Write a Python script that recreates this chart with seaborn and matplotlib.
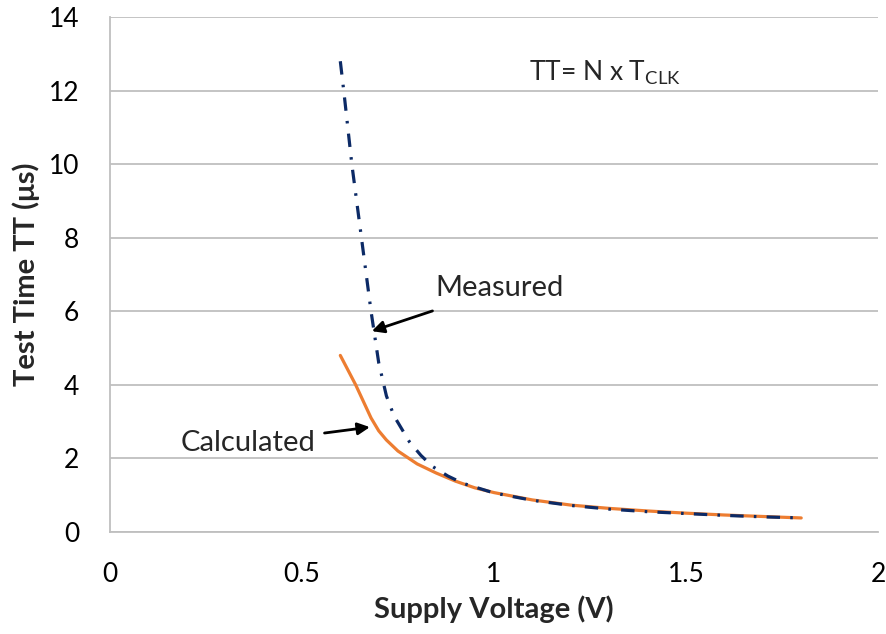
import matplotlib
matplotlib.use("Agg")
import matplotlib.pyplot as plt
import seaborn as sns
import pandas as pd

# Data
meas_v = [0.6, 0.61, 0.63, 0.655, 0.68, 0.70, 0.72, 0.74, 0.76, 0.78, 0.81, 0.84, 0.88, 0.92,
          1.0, 1.1, 1.2, 1.3, 1.4, 1.5, 1.6, 1.7, 1.8]
meas_tt = [12.8, 11.9, 10.0, 8.0, 6.0, 4.6, 3.7, 3.15, 2.8, 2.45, 2.08, 1.78, 1.52, 1.32,
           1.06, 0.86, 0.72, 0.62, 0.55, 0.5, 0.45, 0.41, 0.38]
calc_v = [0.6, 0.62, 0.64, 0.66, 0.68, 0.70, 0.72, 0.75, 0.8, 0.85, 0.9, 0.95, 1.0,
          1.1, 1.2, 1.3, 1.4, 1.5, 1.6, 1.7, 1.8]
calc_tt = [4.8, 4.4, 4.0, 3.55, 3.1, 2.75, 2.5, 2.2, 1.85, 1.6, 1.38, 1.2, 1.07,
           0.87, 0.73, 0.64, 0.57, 0.51, 0.46, 0.42, 0.38]
x_ticks = [0, 0.5, 1, 1.5, 2]
x_tick_labels = ["0", "0.5", "1", "1.5", "2"]
y_ticks = [0, 2, 4, 6, 8, 10, 12, 14]

sns.set_style("white")
plt.rcParams['font.family'] = ['Lato', 'DejaVu Sans']

df_meas = pd.DataFrame({"V": meas_v, "TT": meas_tt})
df_calc = pd.DataFrame({"V": calc_v, "TT": calc_tt})

fig = plt.figure(figsize=(8.86, 6.34), dpi=100)
ax = fig.add_axes([0.124, 0.161, 0.867, 0.812])

sns.lineplot(data=df_calc, x="V", y="TT", ax=ax, color="#ED7D31", lw=2.3, sort=False)
sns.lineplot(data=df_meas, x="V", y="TT", ax=ax, color="#0C2A66", lw=2.3, sort=False,
             linestyle=(0, (4.2, 3.2, 0.8, 3.2)))

ax.set_xlim(0, 2)
ax.set_ylim(0, 14)
ax.set_xticks(x_ticks)
ax.set_xticklabels(x_tick_labels)
ax.set_yticks(y_ticks)
ax.tick_params(axis='both', labelsize=19, length=0, pad=22, colors='black')
ax.yaxis.grid(True, color="#BFBFBF", lw=1.3)
ax.set_axisbelow(True)
for s in ["top", "right"]:
    ax.spines[s].set_visible(False)
for s in ["left", "bottom"]:
    ax.spines[s].set_color("#BFBFBF")
    ax.spines[s].set_linewidth(1.3)

ax.set_xlabel("Supply Voltage (V)", fontsize=21, fontweight="bold", labelpad=6)
ax.set_ylabel("Test Time TT (μs)", fontsize=21, fontweight="bold", labelpad=6)

ax.annotate("Measured", xy=(0.682, 5.46), xytext=(0.848, 6.62), fontsize=21,
            va="center", ha="left",
            arrowprops=dict(arrowstyle="-|>", color="black", lw=2, mutation_scale=18,
                            shrinkA=14, shrinkB=0))
ax.annotate("Calculated", xy=(0.677, 2.85), xytext=(0.536, 2.42), fontsize=21,
            va="center", ha="right",
            arrowprops=dict(arrowstyle="-|>", color="black", lw=2, mutation_scale=18,
                            shrinkA=4, shrinkB=0))
ax.text(1.09, 12.5, "TT= N x T$_{\\mathregular{CLK}}$", fontsize=19, ha="left", va="center")

fig.savefig("out.png", dpi=100)
